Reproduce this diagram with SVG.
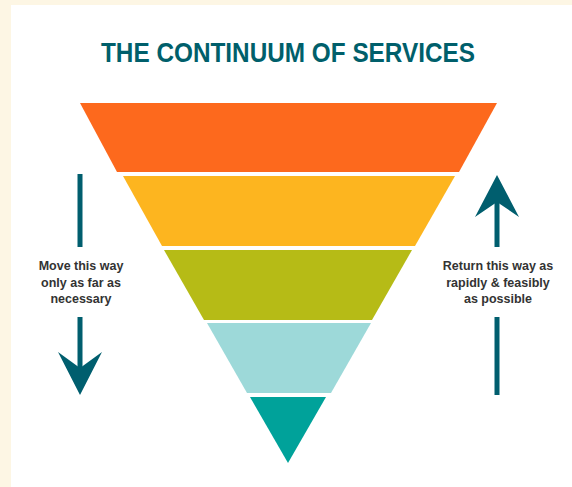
<svg xmlns="http://www.w3.org/2000/svg" width="572" height="487" viewBox="0 0 572 487">
<style>
.lbl{font-family:"Liberation Sans",Arial,sans-serif;font-weight:bold;font-size:12.5px;fill:#333333;text-anchor:middle}
.title{font-family:"Liberation Sans",Arial,sans-serif;font-weight:bold;font-size:27px;fill:#005f6b;text-anchor:middle}
.arr{fill:#005e6e}
</style>
<rect x="0" y="0" width="572" height="487" fill="#fdf6e4"/>
<rect x="11" y="5" width="561" height="482" fill="#ffffff"/>
<text class="title" x="288" y="62" textLength="374" lengthAdjust="spacingAndGlyphs">THE CONTINUUM OF SERVICES</text>
<g id="band1"><polygon points="80,103 497,103 459,172 117,172" fill="#fd691d"/></g>
<g id="band2"><polygon points="123,176 455,176 415,246 162,246" fill="#fdb51f"/></g>
<g id="band3"><polygon points="164,250 412,250 372,320 204,320" fill="#b6bb16"/></g>
<g id="band4"><polygon points="207,323 371,323 331,393 247,393" fill="#9dd9d9"/></g>
<g id="band5"><polygon points="250,397 326,397 288,463" fill="#00a29a"/></g>
<g id="connectors">
<rect class="arr" x="77.5" y="174" width="5" height="73"/>
<rect class="arr" x="77.5" y="317" width="5" height="52"/>
<polygon class="arr" points="58,352 80,368 102,352 80,395"/>
<polygon class="arr" points="475,217 497,202 519,217 497,175"/>
<rect class="arr" x="494.5" y="200" width="5" height="47"/>
<rect class="arr" x="494.5" y="317" width="5" height="78"/>
</g>
<g id="label-left">
<text class="lbl" x="81" y="270">Move this way</text>
<text class="lbl" x="81" y="287">only as far as</text>
<text class="lbl" x="81" y="303">necessary</text>
</g>
<g id="label-right">
<text class="lbl" x="498" y="270">Return this way as</text>
<text class="lbl" x="498" y="287">rapidly &amp; feasibly</text>
<text class="lbl" x="498" y="303">as possible</text>
</g>
</svg>
